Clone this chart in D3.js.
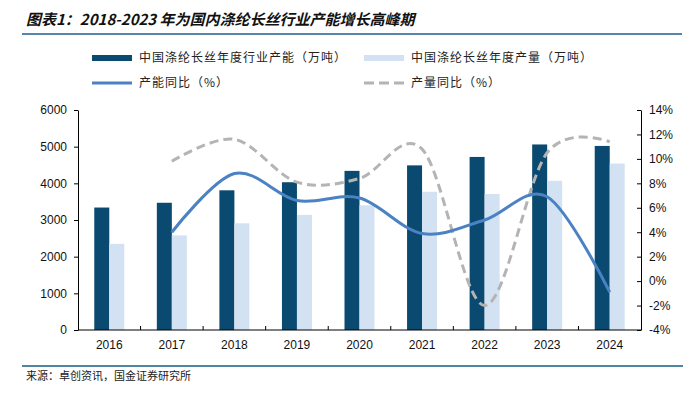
<!DOCTYPE html>
<html>
<head>
<meta charset="utf-8">
<script src="https://cdn.jsdelivr.net/npm/d3@7"></script>
<style>
    body { margin: 0; background: #fff; }
    svg { display: block; }
</style>
</head>
<body>
<svg id="chart" width="694" height="398"></svg>
<script>
var years = ["2016", "2017", "2018", "2019", "2020", "2021", "2022", "2023", "2024"];
// 万吨
var capacity = [3340, 3470, 3810, 4030, 4340, 4490, 4720, 5060, 5020];
var output = [2350, 2580, 2910, 3140, 3400, 3770, 3710, 4070, 4540];
// 同比 (%), 2016 has no value
var capacityYoy = [null, 4.0, 8.8, 6.6, 6.8, 3.9, 5.0, 6.9, -0.9];
var outputYoy = [null, 9.8, 11.6, 8.1, 8.4, 10.8, -2.0, 10.5, 11.4];
var leftTicks = [0, 1000, 2000, 3000, 4000, 5000, 6000];
var rightTicks = [-4, -2, 0, 2, 4, 6, 8, 10, 12, 14];
var legendNames = ["中国涤纶长丝年度行业产能（万吨）", "中国涤纶长丝年度产量（万吨）", "产能同比（%）", "产量同比（%）"];

var colors = { capacity: "#0a4a70", output: "#d2e2f2", capYoy: "#4a82c3", outYoy: "#b4b4b4" };
var latin = "'Liberation Sans', Arial, sans-serif";
var cjk = "'Noto Sans CJK SC', 'Noto Sans', sans-serif";

var svg = d3.select("#chart");
var plotLeft = 78, plotRight = 641, plotTop = 110, plotBottom = 330;

var x = d3.scaleBand().domain(years).range([plotLeft, plotRight]).padding(0);
var yL = d3.scaleLinear().domain([0, 6000]).range([plotBottom, plotTop]);
var yR = d3.scaleLinear().domain([-4, 14]).range([plotBottom, plotTop]);
var barW = 15;

// title + rules
svg.append("text")
    .attr("x", 26).attr("y", 25)
    .attr("font-family", cjk).attr("font-size", 15).attr("font-weight", "bold")
    .attr("font-style", "italic").attr("fill", "#111")
    .text("图表1：2018-2023 年为国内涤纶长丝行业产能增长高峰期");
svg.append("line").attr("x1", 22).attr("x2", 682).attr("y1", 34).attr("y2", 34)
    .attr("stroke", "#1f5f8b").attr("stroke-width", 1.5);
svg.append("line").attr("x1", 22).attr("x2", 683).attr("y1", 366).attr("y2", 366)
    .attr("stroke", "#4f87a3").attr("stroke-width", 2);
svg.append("text")
    .attr("x", 26).attr("y", 380)
    .attr("font-family", cjk).attr("font-size", 11).attr("fill", "#222")
    .text("来源：卓创资讯，国金证券研究所");

// bars
var rows = years.map(function (y, i) {
    return { year: y, cap: capacity[i], out: output[i], capYoy: capacityYoy[i], outYoy: outputYoy[i] };
});
svg.append("g").selectAll("rect").data(rows).enter().append("rect")
    .attr("x", function (d) { return x(d.year) + x.bandwidth() / 2 - barW; })
    .attr("y", function (d) { return yL(d.cap); })
    .attr("width", barW)
    .attr("height", function (d) { return plotBottom - yL(d.cap); })
    .attr("fill", colors.capacity);
svg.append("g").selectAll("rect").data(rows).enter().append("rect")
    .attr("x", function (d) { return x(d.year) + x.bandwidth() / 2; })
    .attr("y", function (d) { return yL(d.out); })
    .attr("width", barW)
    .attr("height", function (d) { return plotBottom - yL(d.out); })
    .attr("fill", colors.output);

// smoothed yoy lines (Excel style smoothing ~ cardinal tension 0)
function yoyLine(key) {
    return d3.line()
        .defined(function (d) { return d[key] != null; })
        .x(function (d) { return x(d.year) + x.bandwidth() / 2; })
        .y(function (d) { return yR(d[key]); })
        .curve(d3.curveCardinal.tension(0));
}
svg.append("path").datum(rows).attr("d", yoyLine("outYoy"))
    .attr("fill", "none").attr("stroke", colors.outYoy).attr("stroke-width", 3)
    .attr("stroke-dasharray", "9,5");
svg.append("path").datum(rows).attr("d", yoyLine("capYoy"))
    .attr("fill", "none").attr("stroke", colors.capYoy).attr("stroke-width", 3);

// axes
function styleAxis(g) {
    g.select(".domain").attr("stroke", "#000");
    g.selectAll(".tick line").attr("stroke", "#000");
    g.selectAll("text").attr("font-family", latin).attr("font-size", 12).attr("fill", "#111");
}
svg.append("g").attr("transform", "translate(" + plotLeft + ",0)")
    .call(d3.axisLeft(yL).tickValues(leftTicks).tickSizeInner(4).tickSizeOuter(0).tickPadding(7)
        .tickFormat(d3.format("d")))
    .call(styleAxis);
svg.append("g").attr("transform", "translate(" + plotRight + ",0)")
    .call(d3.axisRight(yR).tickValues(rightTicks).tickSizeInner(-4).tickSizeOuter(0).tickPadding(8)
        .tickFormat(function (d) { return d + "%"; }))
    .call(styleAxis);

var xAxis = svg.append("g").attr("transform", "translate(0," + plotBottom + ")");
xAxis.append("line").attr("x1", plotLeft).attr("x2", plotRight).attr("stroke", "#000");
xAxis.selectAll("line.tk").data(years.slice(1)).enter().append("line")
    .attr("class", "tk")
    .attr("x1", function (d) { return x(d); }).attr("x2", function (d) { return x(d); })
    .attr("y1", 0).attr("y2", -4).attr("stroke", "#000");
xAxis.selectAll("text").data(years).enter().append("text")
    .attr("x", function (d) { return x(d) + x.bandwidth() / 2; })
    .attr("y", 19).attr("text-anchor", "middle")
    .attr("font-family", latin).attr("font-size", 12).attr("fill", "#111")
    .text(function (d) { return d; });

// legend
var legend = [
    { name: legendNames[0], type: "rect", color: colors.capacity, x: 92, y: 58 },
    { name: legendNames[1], type: "rect", color: colors.output, x: 364, y: 58 },
    { name: legendNames[2], type: "line", color: colors.capYoy, x: 92, y: 83 },
    { name: legendNames[3], type: "dash", color: colors.outYoy, x: 364, y: 83 }
];
var lg = svg.append("g").selectAll("g").data(legend).enter().append("g")
    .attr("transform", function (d) { return "translate(" + d.x + "," + d.y + ")"; });
lg.filter(function (d) { return d.type === "rect"; }).append("rect")
    .attr("x", 0).attr("y", -3).attr("width", 40).attr("height", 6)
    .attr("fill", function (d) { return d.color; });
lg.filter(function (d) { return d.type !== "rect"; }).append("line")
    .attr("x1", 0).attr("x2", 40)
    .attr("stroke", function (d) { return d.color; }).attr("stroke-width", 3)
    .attr("stroke-dasharray", function (d) { return d.type === "dash" ? "10,5" : null; });
lg.append("text")
    .attr("x", 47).attr("y", 4)
    .attr("font-family", cjk).attr("font-size", 12).attr("letter-spacing", 1).attr("fill", "#222")
    .text(function (d) { return d.name; });
</script>
</body>
</html>
